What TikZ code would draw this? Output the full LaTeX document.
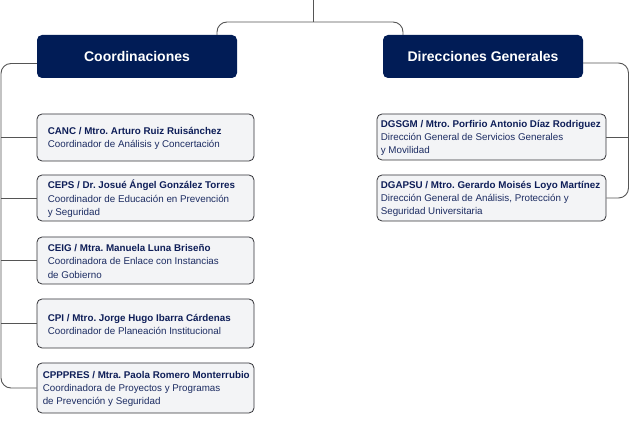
\documentclass[tikz,border=0pt]{standalone}
\usepackage{fontspec}
\setmainfont{Liberation Sans}
\frenchspacing
\definecolor{headnavy}{RGB}{1,28,86}
\definecolor{navyb}{RGB}{14,30,88}
\definecolor{navyr}{RGB}{28,44,98}
\definecolor{cardfill}{RGB}{243,244,246}
\definecolor{cardline}{RGB}{50,50,55}
\definecolor{connline}{RGB}{85,85,85}
\begin{document}
\begin{tikzpicture}[x=1pt,y=-1pt,
  head/.style={fill=headnavy, rounded corners=5pt, minimum width=200pt, minimum height=43pt, inner sep=0pt, text=white, font=\bfseries\fontsize{14}{16}\selectfont},
  card/.style={draw=cardline, fill=cardfill, rounded corners=5pt, line width=0.8pt, inner sep=0pt},
  lcard/.style={card, minimum width=217pt},
  rcard/.style={card, minimum width=229pt},
  cardtxt/.style={anchor=west, align=left, inner sep=0pt, text=navyr, font=\frenchspacing\fontsize{9.8}{13.4}\selectfont},
  conn/.style={draw=connline, line width=0.9pt, rounded corners=10pt}]
\useasboundingbox (0,0) rectangle (630,427);

% headers
\node[head] (coord) at (137,56.5) {Coordinaciones};
\node[head] (dir) at (483,56.5) {Direcciones Generales};

% left cards
\node[lcard, minimum height=47pt] (canc) at (145.5,137.5) {};
\node[lcard, minimum height=46pt] (ceps) at (145.5,198) {};
\node[lcard, minimum height=47pt] (ceig) at (145.5,260.5) {};
\node[lcard, minimum height=49pt] (cpi) at (145.5,323.5) {};
\node[lcard, minimum height=50pt] (cppp) at (145.5,388) {};

\node[cardtxt] (cancT) at ([xshift=11pt,yshift=-1pt]canc.west) {{\bfseries\color{navyb}CANC / Mtro. Arturo Ruiz Ruisánchez}\\Coordinador de Análisis y Concertación};
\node[cardtxt] (cepsT) at ([xshift=11pt,yshift=-1pt]ceps.west) {{\bfseries\color{navyb}CEPS / Dr. Josué Ángel González Torres}\\Coordinador de Educación en Prevención\\y Seguridad};
\node[cardtxt] (ceigT) at ([xshift=11pt,yshift=-1pt]ceig.west) {{\bfseries\color{navyb}CEIG / Mtra. Manuela Luna Briseño}\\Coordinadora de Enlace con Instancias\\de Gobierno};
\node[cardtxt] (cpiT) at ([xshift=11pt,yshift=-1pt]cpi.west) {{\bfseries\color{navyb}CPI / Mtro. Jorge Hugo Ibarra Cárdenas}\\Coordinador de Planeación Institucional};
\node[cardtxt] (cpppT) at ([xshift=6pt,yshift=-1pt]cppp.west) {{\bfseries\color{navyb}CPPPRES / Mtra. Paola Romero Monterrubio}\\Coordinadora de Proyectos y Programas\\de Prevención y Seguridad};

% right cards
\node[rcard, minimum height=46pt] (dgsgm) at (491.5,137) {};
\node[rcard, minimum height=46pt] (dgapsu) at (491.5,198) {};

\node[cardtxt] (dgsgmT) at ([xshift=4pt,yshift=-1pt]dgsgm.west) {{\bfseries\color{navyb}DGSGM / Mtro. Porfirio Antonio Díaz Rodriguez}\\Dirección General de Servicios Generales\\y Movilidad};
\node[cardtxt] (dgapsuT) at ([xshift=4pt,yshift=-1pt]dgapsu.west) {{\bfseries\color{navyb}DGAPSU / Mtro. Gerardo Moisés Loyo Martínez}\\Dirección General de Análisis, Protección y\\Seguridad Universitaria};

% top connector
\coordinate (top) at (313,0);
\coordinate (topj) at (313,22);
\coordinate (lbend) at (217,22);
\coordinate (rbend) at (403,22);
\draw[conn] (top) -- (topj);
\draw[conn] (coord.north -| lbend) -- (lbend) -- (rbend) -- (dir.north -| rbend);

% left trunk
\coordinate (lx) at (1,0);
\draw[conn] ([yshift=-7pt]coord.west) -| (cppp.west -| lx) -- (cppp.west);
\foreach \n in {canc,ceps,ceig,cpi}
  \draw[conn] (\n.west) -- (\n.west -| lx);

% right trunk
\coordinate (rx) at (628.5,0);
\draw[conn] ([yshift=-6.5pt]dir.east) -| (dgapsu.east -| rx) -- (dgapsu.east);
\draw[conn] (dgsgm.east) -- (dgsgm.east -| rx);
\end{tikzpicture}
\end{document}
